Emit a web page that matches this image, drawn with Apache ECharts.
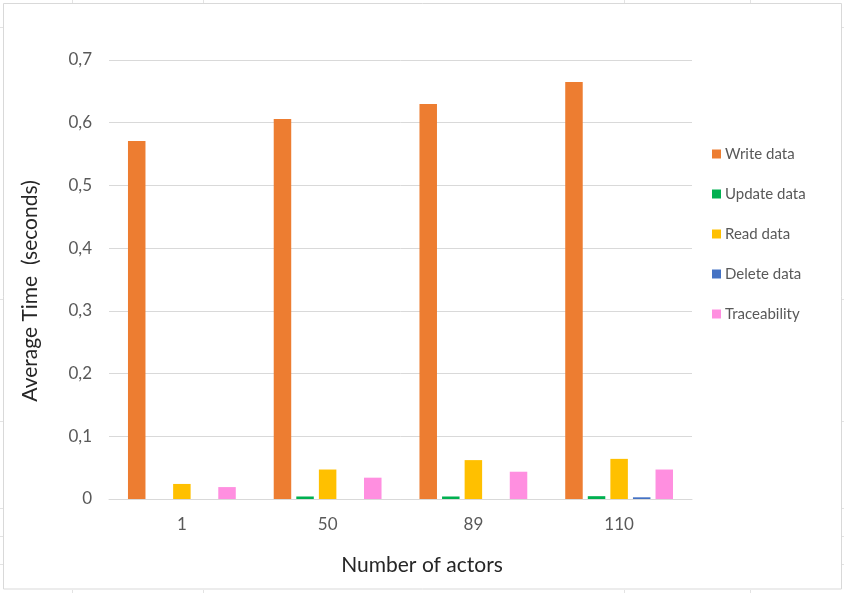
<!DOCTYPE html>
<html>
<head>
<meta charset="utf-8">
<title>Average Time by Number of actors</title>
<script src="https://cdn.jsdelivr.net/npm/echarts@6/dist/echarts.min.js"></script>
<style>
  html, body { margin: 0; padding: 0; background: #fff; }
  #chart { width: 844px; height: 593px; }
</style>
</head>
<body>
<div id="chart"></div>
<script>
// Number of actors on the x axis
const categories = ['1', '50', '89', '110'];

// Average time (seconds) per operation
const writeData = [0.571, 0.606, 0.630, 0.665];
const updateData = ['-', 0.004, 0.004, 0.0045];
const readData = [0.024, 0.047, 0.062, 0.064];
const deleteData = ['-', '-', '-', 0.0027];
const traceData = [0.019, 0.034, 0.0435, 0.047];

const seriesNames = ['Write data', 'Update data', 'Read data', 'Delete data', 'Traceability'];
const seriesColors = ['#ED7D31', '#00B050', '#FFC000', '#4472C4', '#FF8FE0'];

// y axis ticks, decimal comma
const yTicks = { min: 0, max: 0.7, interval: 0.1 };

const FONT = 'Lato, "Open Sans", sans-serif';

const chart = echarts.init(document.getElementById('chart'), null, { renderer: 'canvas' });

const valueSets = [writeData, updateData, readData, deleteData, traceData];

const series = seriesNames.map((name, i) => ({
  name: name,
  type: 'bar',
  data: valueSets[i],
  barWidth: 17.5,
  barGap: '29%',
  itemStyle: { color: seriesColors[i] }
}));

// thin worksheet cell marks around the chart frame
const edgeMarks = [];
[72, 203, 624, 750].forEach(x => {
  edgeMarks.push({ type: 'line', shape: { x1: x + 0.5, y1: 0, x2: x + 0.5, y2: 3 }, style: { stroke: '#e3e3e3', lineWidth: 1 }, silent: true });
  edgeMarks.push({ type: 'line', shape: { x1: x + 0.5, y1: 590, x2: x + 0.5, y2: 593 }, style: { stroke: '#e3e3e3', lineWidth: 1 }, silent: true });
});
[27, 299, 421, 508, 536, 564].forEach(y => {
  edgeMarks.push({ type: 'line', shape: { x1: 0, y1: y + 0.5, x2: 3, y2: y + 0.5 }, style: { stroke: '#e3e3e3', lineWidth: 1 }, silent: true });
  edgeMarks.push({ type: 'line', shape: { x1: 842, y1: y + 0.5, x2: 844, y2: y + 0.5 }, style: { stroke: '#e3e3e3', lineWidth: 1 }, silent: true });
});

const option = {
  backgroundColor: '#ffffff',
  animation: false,
  color: seriesColors,
  grid: { left: 109, right: 152, top: 60, bottom: 94, containLabel: false },
  legend: {
    data: seriesNames,
    orient: 'vertical',
    left: 712,
    top: 146,
    padding: 0,
    icon: 'rect',
    itemWidth: 9,
    itemHeight: 9,
    itemGap: 24,
    textStyle: { fontFamily: FONT, fontSize: 15, color: '#595959', lineHeight: 16, padding: [0, 0, 0, -1] }
  },
  xAxis: {
    type: 'category',
    data: categories,
    axisLine: { show: true, lineStyle: { color: '#d9d9d9', width: 1 } },
    axisTick: { show: false },
    axisLabel: { fontFamily: FONT, fontSize: 17, color: '#595959', margin: 17 },
    splitLine: { show: false }
  },
  yAxis: {
    type: 'value',
    min: yTicks.min,
    max: yTicks.max,
    interval: yTicks.interval,
    axisLine: { show: false },
    axisTick: { show: false },
    axisLabel: {
      fontFamily: FONT,
      fontSize: 17,
      color: '#595959',
      margin: 17,
      formatter: v => (v === 0 ? '0' : v.toFixed(1).replace('.', ','))
    },
    splitLine: { lineStyle: { color: '#d9d9d9', width: 1 } }
  },
  graphic: [
    {
      type: 'rect',
      shape: { x: 3.5, y: 3.5, width: 838, height: 585.5 },
      style: { fill: 'none', stroke: '#d9d9d9', lineWidth: 1 },
      silent: true,
      z: -1
    },
    {
      type: 'text',
      x: 30,
      y: 291,
      rotation: Math.PI / 2,
      style: {
        text: 'Average Time  (seconds)',
        fontFamily: FONT,
        fontSize: 21,
        fill: '#262626',
        align: 'center',
        verticalAlign: 'middle'
      },
      silent: true
    },
    {
      type: 'text',
      x: 422,
      y: 565,
      style: {
        text: 'Number of actors',
        fontFamily: FONT,
        fontSize: 21,
        fill: '#262626',
        align: 'center',
        verticalAlign: 'middle'
      },
      silent: true
    }
  ].concat(edgeMarks),
  series: series
};

chart.setOption(option);
</script>
</body>
</html>
